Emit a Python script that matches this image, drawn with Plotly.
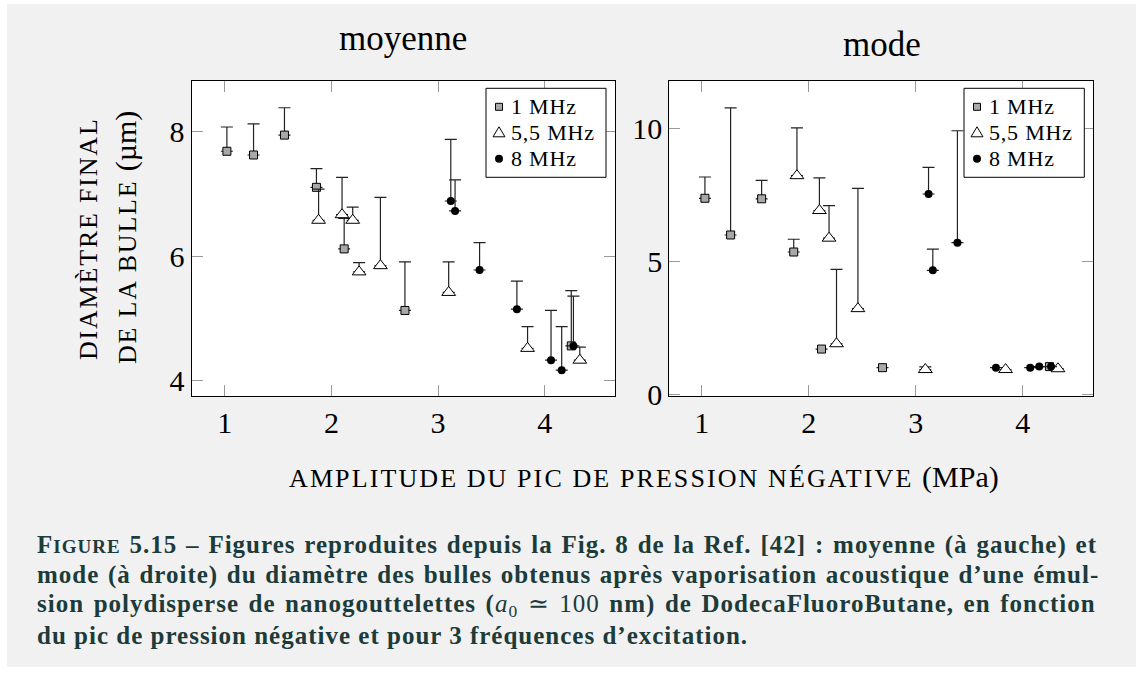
import plotly.graph_objects as go

# ---- data: mean bubble diameter (µm) vs peak negative pressure (MPa) ----
moy_1mhz_x = [1.02, 1.27, 1.56, 1.86, 2.12, 2.69, 4.25]
moy_1mhz_y = [7.69, 7.63, 7.95, 7.11, 6.12, 5.13, 4.56]
moy_1mhz_err = [0.39, 0.50, 0.44, 0.30, 0.49, 0.78, 0.89]

moy_55mhz_x = [1.88, 2.10, 2.20, 2.26, 2.46, 3.10, 3.84, 4.33]
moy_55mhz_y = [6.58, 6.67, 6.58, 5.75, 5.85, 5.42, 4.52, 4.33]
moy_55mhz_err = [0.50, 0.60, 0.21, 0.15, 1.10, 0.49, 0.35, 0.21]

moy_8mhz_x = [3.12, 3.16, 3.39, 3.74, 4.06, 4.16, 4.27]
moy_8mhz_y = [6.89, 6.73, 5.78, 5.15, 4.33, 4.17, 4.56]
moy_8mhz_err = [0.99, 0.50, 0.44, 0.45, 0.80, 0.70, 0.80]

# ---- data: mode of bubble diameter (µm) ----
mode_1mhz_x = [1.03, 1.27, 1.56, 1.86, 2.12, 2.69, 4.25]
mode_1mhz_y = [7.36, 5.98, 7.34, 5.34, 1.69, 0.99, 1.03]
mode_1mhz_err = [0.80, 4.78, 0.69, 0.48, None, None, None]

mode_55mhz_x = [1.89, 2.10, 2.19, 2.26, 2.46, 3.09, 3.84, 4.33]
mode_55mhz_y = [8.21, 6.90, 5.86, 1.89, 3.21, 0.92, 0.92, 0.95]
mode_55mhz_err = [1.80, 1.23, 1.22, 2.80, 4.52, 0.10, None, None]

mode_8mhz_x = [3.12, 3.16, 3.39, 3.75, 4.07, 4.155, 4.265]
mode_8mhz_y = [7.52, 4.65, 5.69, 0.99, 0.99, 1.03, 1.03]
mode_8mhz_err = [1.00, 0.80, 4.21, None, None, None, None]

series_names = ["1 MHz", "5,5 MHz", "8 MHz"]
x_ticks = [1, 2, 3, 4]
y_ticks_moy = [4, 6, 8]
y_ticks_mode = [0, 5, 10]

W, H = 1136, 677
SERIF = "Liberation Serif"
BG = "#f1f1f1"
SQUARE_FILL = "#a8a8a8"
CAPTION_COLOR = "#1c3b3a"


def px(x):
    return x / W


def py(y):
    return 1 - y / H


marker_styles = [
    dict(symbol="square", size=8, color=SQUARE_FILL, line=dict(color="black", width=1)),
    dict(symbol="triangle-up", size=12, color="white", line=dict(color="black", width=1)),
    dict(symbol="circle", size=8, color="black", line=dict(color="black", width=0)),
]

panels = [
    ("x", "y",
     [(moy_1mhz_x, moy_1mhz_y, moy_1mhz_err),
      (moy_55mhz_x, moy_55mhz_y, moy_55mhz_err),
      (moy_8mhz_x, moy_8mhz_y, moy_8mhz_err)]),
    ("x2", "y2",
     [(mode_1mhz_x, mode_1mhz_y, mode_1mhz_err),
      (mode_55mhz_x, mode_55mhz_y, mode_55mhz_err),
      (mode_8mhz_x, mode_8mhz_y, mode_8mhz_err)]),
]

fig = go.Figure()
for xa, ya, series in panels:
    for name, style, (xs, ys, errs) in zip(series_names, marker_styles, series):
        fig.add_trace(go.Scatter(
            x=xs, y=ys, mode="markers", name=name, showlegend=False,
            xaxis=xa, yaxis=ya, marker=style,
            error_y=dict(type="data", array=errs, symmetric=False,
                         arrayminus=[0] * len(errs),
                         color="#222222", thickness=1.2, width=6),
        ))

axis_common = dict(
    ticks="inside", ticklen=11, tickwidth=1, tickcolor="#9a9a9a",
    mirror="allticks", showline=True, linecolor="black", linewidth=1.3,
    showgrid=False, zeroline=False, automargin=False,
    tickfont=dict(family=SERIF, size=30, color="black"),
)

x_dom_left = [px(191.7), px(615)]
x_dom_right = [px(669.3), px(1093.3)]
y_dom = [py(396), py(81)]

fig.update_layout(
    template="none",
    width=W, height=H, autosize=False,
    margin=dict(l=0, r=0, t=0, b=0, pad=0),
    paper_bgcolor=BG, plot_bgcolor="white",
    showlegend=False,
    xaxis=dict(domain=x_dom_left, range=[0.69, 4.66], tickvals=x_ticks,
               anchor="y", **axis_common),
    yaxis=dict(domain=y_dom, range=[3.754, 8.82], tickvals=y_ticks_moy,
               anchor="x", **axis_common),
    xaxis2=dict(domain=x_dom_right, range=[0.697, 4.66], tickvals=x_ticks,
                anchor="y2", **axis_common),
    yaxis2=dict(domain=y_dom, range=[-0.075, 11.77], tickvals=y_ticks_mode,
                anchor="x2", **axis_common),
)


def rect(x0, y0, x1, y1, fill, line_color=None, line_width=0, layer="above"):
    fig.add_shape(type="rect", xref="paper", yref="paper",
                  x0=px(x0), x1=px(x1), y0=py(y1), y1=py(y0),
                  fillcolor=fill, layer=layer,
                  line=dict(color=line_color or fill, width=line_width))


# white border around the grey page area
for box in [(0, 0, 7, H), (0, 0, W, 4), (0, 667, W, H)]:
    rect(*box, fill="white", layer="below")

annotations = []


def text(x, y, s, size, color="black", angle=0, xanchor="center", weight="normal"):
    annotations.append(dict(
        x=px(x), y=py(y), xref="paper", yref="paper", text=s, showarrow=False,
        xanchor=xanchor, yanchor="middle", textangle=angle,
        font=dict(family=SERIF, size=size, color=color, weight=weight),
    ))


def spaced(s, ls, ws=0):
    return f"<span style='letter-spacing:{ls}px;word-spacing:{ws}px'>{s}</span>"


# legend boxes (one per panel): frame, key symbols, labels
def legend_box(left, top, right, bottom):
    rect(left, top, right, bottom, fill="white", line_color="black", line_width=1)
    rows = [top + 18.5, top + 44.5, top + 70.5]
    kx = left + 13
    # square key
    rect(kx - 3.5, rows[0] - 3.5, kx + 3.5, rows[0] + 3.5, fill=SQUARE_FILL,
         line_color="black", line_width=1)
    # triangle key
    tri = (f"M {px(kx)} {py(rows[1] - 6)} L {px(kx + 6)} {py(rows[1] + 4)} "
           f"L {px(kx - 6)} {py(rows[1] + 4)} Z")
    fig.add_shape(type="path", xref="paper", yref="paper", path=tri,
                  fillcolor="white", line=dict(color="black", width=1))
    # circle key
    fig.add_shape(type="circle", xref="paper", yref="paper",
                  x0=px(kx - 4), x1=px(kx + 4), y0=py(rows[2] + 4), y1=py(rows[2] - 4),
                  fillcolor="black", line=dict(color="black", width=0))
    for name, ry in zip(series_names, rows):
        text(left + 23, ry, spaced(name, 0.8), 22, xanchor="left")


legend_box(486, 88.3, 606, 177.3)
legend_box(964, 88.3, 1084.3, 177.3)

# panel titles
text(403, 38, "moyenne", 35)
text(882, 45, "mode", 35)

# axis titles
text(644, 477, spaced("AMPLITUDE DU PIC DE PRESSION NÉGATIVE ", 2.1)
     + "<span style='font-size:30px'>(MPa)</span>", 26)
text(88, 239, spaced("DIAMÈTRE FINAL", 1.8), 26, angle=-90)
text(126, 238, spaced("DE LA BULLE ", 1.8) + "<span style='font-size:30px'>(µm)</span>", 26, angle=-90)

# caption (justified lines, last line ragged)
caption_lines = [
    ("F<span style='font-size:19px'>IGURE</span> 5.15 – Figures reproduites depuis la Fig. 8 de la Ref. [42] : moyenne (à gauche) et", 1.6),
    ("mode (à droite) du diamètre des bulles obtenus après vaporisation acoustique d’une émul-", 1.4),
    ("sion polydisperse de nanogouttelettes (<span style='font-weight:normal'><i>a</i><sub>0</sub> ≃ 100</span> nm) de DodecaFluoroButane, en fonction", 2.3),
    ("du pic de pression négative et pour 3 fréquences d’excitation.", 0),
]
for i, (line, ws) in enumerate(caption_lines):
    text(35, 545 + 30 * i, spaced(line, 1.0, ws), 25, color=CAPTION_COLOR,
         xanchor="left", weight="bold")

fig.update_layout(annotations=annotations)

fig.write_html("out.html")
